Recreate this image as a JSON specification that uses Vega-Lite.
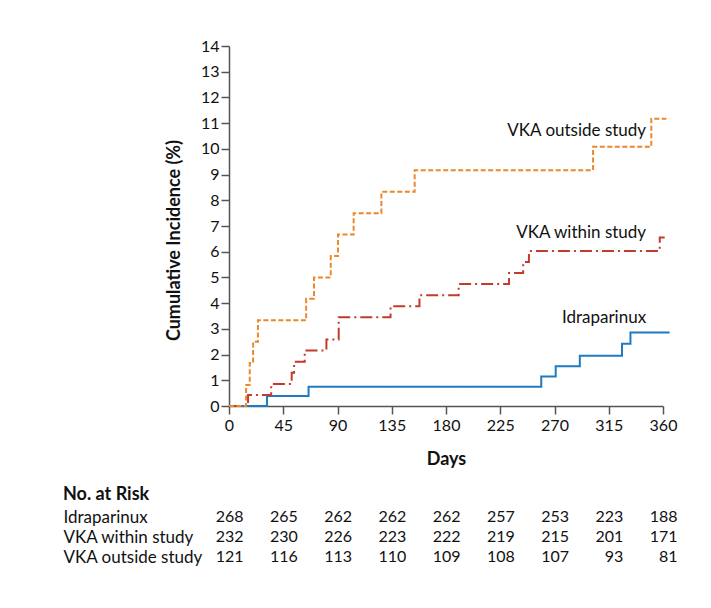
{
  "$schema": "https://vega.github.io/schema/vega-lite/v6.json",
  "background": "white",
  "padding": {"left": 63, "top": 38, "right": 5, "bottom": 5},
  "config": {"font": "Lato", "view": {"stroke": null}},
  "datasets": {
    "curves": [
      {"group": "Idraparinux", "day": 0, "pct": 0},
      {"group": "Idraparinux", "day": 31.5, "pct": 0.39},
      {"group": "Idraparinux", "day": 66, "pct": 0.75},
      {"group": "Idraparinux", "day": 259, "pct": 1.15},
      {"group": "Idraparinux", "day": 271, "pct": 1.55},
      {"group": "Idraparinux", "day": 291, "pct": 1.95},
      {"group": "Idraparinux", "day": 326, "pct": 2.42},
      {"group": "Idraparinux", "day": 333, "pct": 2.86},
      {"group": "Idraparinux", "day": 365.5, "pct": 2.86},
      {"group": "VKA within study", "day": 0, "pct": 0},
      {"group": "VKA within study", "day": 15.8, "pct": 0.43},
      {"group": "VKA within study", "day": 35, "pct": 0.86},
      {"group": "VKA within study", "day": 52, "pct": 1.29},
      {"group": "VKA within study", "day": 54, "pct": 1.72},
      {"group": "VKA within study", "day": 62.8, "pct": 2.16},
      {"group": "VKA within study", "day": 80.8, "pct": 2.59},
      {"group": "VKA within study", "day": 91, "pct": 3.45},
      {"group": "VKA within study", "day": 134, "pct": 3.88},
      {"group": "VKA within study", "day": 158, "pct": 4.31},
      {"group": "VKA within study", "day": 190.5, "pct": 4.74},
      {"group": "VKA within study", "day": 232.3, "pct": 5.17},
      {"group": "VKA within study", "day": 244, "pct": 5.6},
      {"group": "VKA within study", "day": 248.8, "pct": 6.03},
      {"group": "VKA within study", "day": 357.3, "pct": 6.55},
      {"group": "VKA within study", "day": 361.4, "pct": 6.55},
      {"group": "VKA outside study", "day": 0, "pct": 0},
      {"group": "VKA outside study", "day": 14.2, "pct": 0.82},
      {"group": "VKA outside study", "day": 17.2, "pct": 1.67},
      {"group": "VKA outside study", "day": 20, "pct": 2.5},
      {"group": "VKA outside study", "day": 24, "pct": 3.33},
      {"group": "VKA outside study", "day": 64, "pct": 4.17},
      {"group": "VKA outside study", "day": 70.5, "pct": 5.0},
      {"group": "VKA outside study", "day": 84.4, "pct": 5.83},
      {"group": "VKA outside study", "day": 90.4, "pct": 6.67},
      {"group": "VKA outside study", "day": 103.4, "pct": 7.5},
      {"group": "VKA outside study", "day": 126.4, "pct": 8.33},
      {"group": "VKA outside study", "day": 154, "pct": 9.17},
      {"group": "VKA outside study", "day": 302, "pct": 10.08},
      {"group": "VKA outside study", "day": 350.3, "pct": 11.17},
      {"group": "VKA outside study", "day": 362.8, "pct": 11.17}
    ],
    "labels": [
      {"label": "VKA outside study", "day": 346, "pct": 10.68},
      {"label": "VKA within study", "day": 346, "pct": 6.71},
      {"label": "Idraparinux", "day": 346, "pct": 3.41}
    ],
    "risk": [
      {"group": "Idraparinux", "day": 0, "n": 268},
      {"group": "Idraparinux", "day": 45, "n": 265},
      {"group": "Idraparinux", "day": 90, "n": 262},
      {"group": "Idraparinux", "day": 135, "n": 262},
      {"group": "Idraparinux", "day": 180, "n": 262},
      {"group": "Idraparinux", "day": 225, "n": 257},
      {"group": "Idraparinux", "day": 270, "n": 253},
      {"group": "Idraparinux", "day": 315, "n": 223},
      {"group": "Idraparinux", "day": 360, "n": 188},
      {"group": "VKA within study", "day": 0, "n": 232},
      {"group": "VKA within study", "day": 45, "n": 230},
      {"group": "VKA within study", "day": 90, "n": 226},
      {"group": "VKA within study", "day": 135, "n": 223},
      {"group": "VKA within study", "day": 180, "n": 222},
      {"group": "VKA within study", "day": 225, "n": 219},
      {"group": "VKA within study", "day": 270, "n": 215},
      {"group": "VKA within study", "day": 315, "n": 201},
      {"group": "VKA within study", "day": 360, "n": 171},
      {"group": "VKA outside study", "day": 0, "n": 121},
      {"group": "VKA outside study", "day": 45, "n": 116},
      {"group": "VKA outside study", "day": 90, "n": 113},
      {"group": "VKA outside study", "day": 135, "n": 110},
      {"group": "VKA outside study", "day": 180, "n": 109},
      {"group": "VKA outside study", "day": 225, "n": 108},
      {"group": "VKA outside study", "day": 270, "n": 107},
      {"group": "VKA outside study", "day": 315, "n": 93},
      {"group": "VKA outside study", "day": 360, "n": 81}
    ]
  },
  "spacing": 18,
  "vconcat": [
    {
      "width": 434,
      "height": 360,
      "layer": [
        {
          "data": {"name": "curves"},
          "mark": {"type": "line", "interpolate": "step-after", "strokeWidth": 2},
          "encoding": {
            "x": {"field": "day", "type": "quantitative",
              "scale": {"domain": [0, 360], "nice": false},
              "axis": {"values": [0, 45, 90, 135, 180, 225, 270, 315, 360], "tickCount": 20, "format": "d", "title": "Days",
                "grid": false, "tickSize": 8, "labelPadding": 3, "labelFontSize": 16, "labelColor": "#111",
                "labelOverlap": false, "labelFlush": false,
                "domainColor": "#555", "tickColor": "#555", "domainWidth": 1.5, "tickWidth": 1.5,
                "titleFontSize": 18, "titleFontWeight": "bold", "titleColor": "#111", "titlePadding": 17}},
            "y": {"field": "pct", "type": "quantitative",
              "scale": {"domain": [0, 14], "nice": false},
              "axis": {"values": [0,1,2,3,4,5,6,7,8,9,10,11,12,13,14], "tickCount": 20, "format": "d", "title": "Cumulative Incidence (%)",
                "grid": false, "tickSize": 8, "labelPadding": 2, "labelFontSize": 16, "labelColor": "#111",
                "labelOverlap": false, "labelFlush": false,
                "domainColor": "#555", "tickColor": "#555", "domainWidth": 1.5, "tickWidth": 1.5,
                "titleFontSize": 18, "titleFontWeight": "bold", "titleColor": "#111", "titlePadding": 17, "titleY": 194}},
            "color": {"field": "group", "type": "nominal",
              "scale": {"domain": ["Idraparinux", "VKA within study", "VKA outside study"], "range": ["#1F7BC1", "#C23B2B", "#E8892B"]},
              "legend": null},
            "strokeDash": {"field": "group", "type": "nominal",
              "scale": {"domain": ["Idraparinux", "VKA within study", "VKA outside study"], "range": [[1, 0], [12, 4, 2, 4], [5, 2.5]]},
              "legend": null}
          }
        },
        {
          "data": {"name": "labels"},
          "mark": {"type": "text", "align": "right", "baseline": "middle", "fontSize": 17, "color": "#111"},
          "encoding": {
            "x": {"field": "day", "type": "quantitative"},
            "y": {"field": "pct", "type": "quantitative"},
            "text": {"field": "label"}
          }
        }
      ]
    },
    {
      "width": 434,
      "height": {"step": 20},
      "title": {"text": "No. at Risk", "anchor": "start", "frame": "group", "dx": -166, "fontSize": 18, "fontWeight": "bold", "color": "#111", "offset": 3},
      "data": {"name": "risk"},
      "mark": {"type": "text", "align": "right", "baseline": "middle", "fontSize": 16, "dx": 14.5, "color": "#111"},
      "encoding": {
        "x": {"field": "day", "type": "quantitative", "scale": {"domain": [0, 360], "nice": false}, "axis": null},
        "y": {"field": "group", "type": "nominal", "sort": ["Idraparinux", "VKA within study", "VKA outside study"],
          "axis": {"title": null, "ticks": false, "domain": false, "labelAlign": "left", "labelPadding": 166,
            "labelFontSize": 17, "labelColor": "#111"}},
        "text": {"field": "n", "type": "quantitative"}
      }
    }
  ]
}
